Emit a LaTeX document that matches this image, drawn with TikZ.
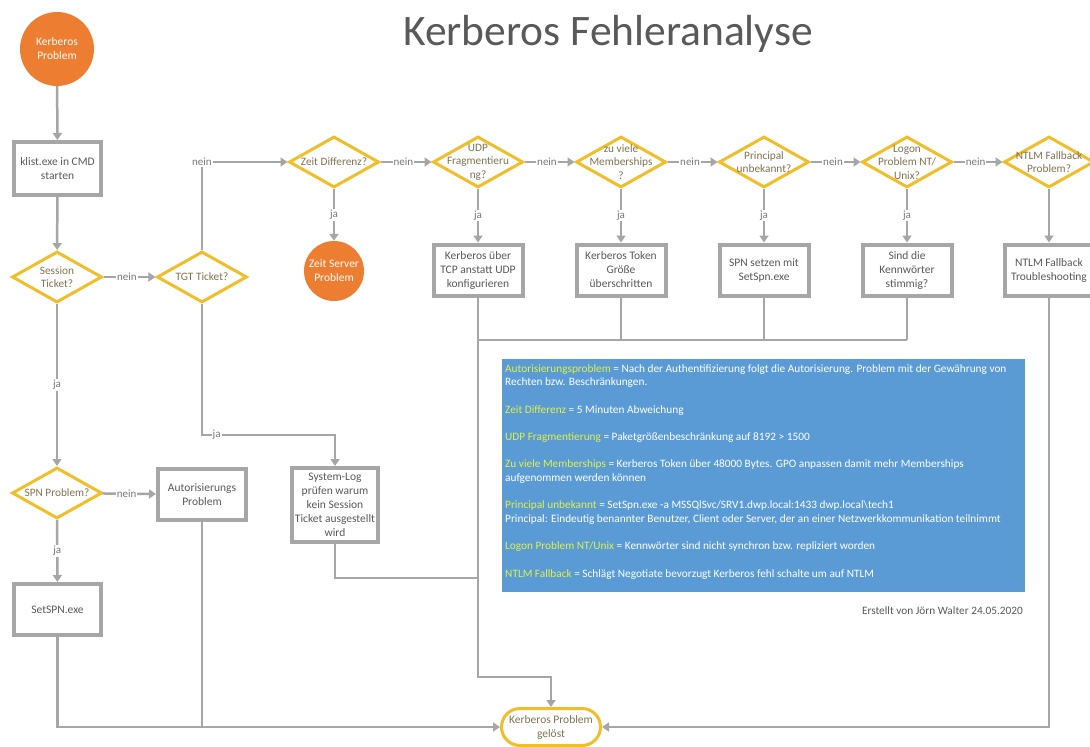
\documentclass[tikz,border=0pt]{standalone}
\usepackage{fontspec}
\setmainfont{Carlito}
\usetikzlibrary{shapes.geometric,shapes.misc,arrows.meta,calc}
\definecolor{lgray}{RGB}{166,166,166}
\definecolor{tgray}{RGB}{89,89,89}
\definecolor{lbgray}{RGB}{120,120,120}
\definecolor{ygold}{RGB}{240,190,40}
\definecolor{orng}{RGB}{237,125,49}
\definecolor{dtxt}{RGB}{130,115,80}
\definecolor{blu}{RGB}{91,155,213}
\definecolor{kw}{RGB}{225,240,70}
\begin{document}
\begin{tikzpicture}[x=1pt,y=-1pt,
  conn/.style={draw=lgray,line width=2.5pt},
  arr/.style={conn,-{Triangle[length=7pt,width=9pt]}},
  dia/.style={diamond,draw=ygold,line width=3pt,fill=white,minimum width=90pt,minimum height=51pt,inner sep=0pt},
  dtext/.style={align=center,font=\fontsize{11.3}{13.5}\selectfont,text=dtxt,inner sep=0pt},
  box/.style={rectangle,draw=lgray,line width=4pt,fill=white,minimum width=89pt,minimum height=51pt,align=center,font=\fontsize{11.5}{14}\selectfont,text=tgray,inner sep=1pt},
  circ/.style={circle,fill=orng,text=white,align=center,font=\fontsize{11.5}{14}\selectfont,inner sep=0pt},
  lbl/.style={fill=white,inner sep=1pt,font=\fontsize{11}{13}\selectfont,text=lbgray},
]
\useasboundingbox (0,0) rectangle (1090,747);
\clip (0,0) rectangle (1090,747);
\fill[white] (0,0) rectangle (1090,747);

% title
\node[anchor=base,font=\fontsize{43.5}{50}\selectfont,text=tgray,inner sep=0pt] (title) at (608,45) {Kerberos Fehleranalyse};

% left column
\node[circ,minimum size=74pt] (kp) at (57,49) {Kerberos\\Problem};
\node[box,minimum width=87pt,minimum height=53pt] (klist) at (57.5,168.5) {klist.exe in CMD\\starten};
\node[dia] (st) at (57,277) {};
\node[dtext] (stT) at (st) {Session\\Ticket?};
\node[dia] (tgt) at (202,277) {};
\node[dtext] (tgtT) at (tgt) {TGT Ticket?};
\node[dia] (spn) at (57,493) {};
\node[dtext] (spnT) at (spn) {SPN Problem?};
\node[box,minimum width=88pt,minimum height=51pt] (auth) at (202,494.5) {Autorisierungs\\Problem};
\node[box,minimum width=87pt,minimum height=51pt] (setspn) at (57.5,609.5) {SetSPN.exe};
\node[box,minimum width=86pt,minimum height=74pt,font=\fontsize{11.5}{14}\selectfont] (syslog) at (335,505) {System-Log\\prüfen warum\\kein Session\\Ticket ausgestellt\\wird};

% top row
\node[dia] (zd) at (334,162) {};
\node[dtext] (zdT) at (zd) {Zeit Differenz?};
\node[circ,minimum size=60pt] (zs) at (334,271) {Zeit Server\\Problem};
\node[dia] (udp) at (478,162) {};
\node[dtext] (udpT) at (udp) {UDP\\Fragmentieru\\ng?};
\node[dia] (mem) at (621,162) {};
\node[dtext] (memT) at (mem) {zu viele\\Memberships\\?};
\node[dia] (pr) at (764,162) {};
\node[dtext] (prT) at (pr) {Principal\\unbekannt?};
\node[dia] (lg) at (907,162) {};
\node[dtext] (lgT) at (lg) {Logon\\Problem NT/\\Unix?};
\node[dia] (nt) at (1049,162) {};
\node[dtext] (ntT) at (nt) {NTLM Fallback\\Problem?};

\node[box] (udpB) at (478,270) {Kerberos über\\TCP anstatt UDP\\konfigurieren};
\node[box] (memB) at (621,270) {Kerberos Token\\Größe\\überschritten};
\node[box] (prB) at (764,270) {SPN setzen mit\\SetSpn.exe};
\node[box] (lgB) at (907,270) {Sind die\\Kennwörter\\stimmig?};
\node[box] (ntB) at (1049,270) {NTLM Fallback\\Troubleshooting};

% end terminal
\node[rounded rectangle,draw=ygold,line width=3pt,fill=white,minimum width=101pt,minimum height=37pt,align=center,text=dtxt,font=\fontsize{11.5}{14}\selectfont,inner sep=1pt] (gel) at (551,727) {Kerberos Problem\\gelöst};

% legend
\node[fill=blu,anchor=north west,minimum width=523pt,minimum height=233pt,inner sep=0pt] (legend) at (502,359) {};
\node[anchor=north west,align=left,text=white,inner sep=0pt,font=\fontsize{11.3}{13.8}\selectfont] (legendT) at (505,364) {%
\textcolor{kw}{Autorisierungsproblem} = Nach der Authentifizierung folgt die Autorisierung. Problem mit der Gewährung von\\
Rechten bzw. Beschränkungen.\\[13.5pt]
\textcolor{kw}{Zeit Differenz} = 5 Minuten Abweichung\\[13.5pt]
\textcolor{kw}{UDP Fragmentierung} = Paketgrößenbeschränkung auf 8192 > 1500\\[13.5pt]
\textcolor{kw}{Zu viele Memberships} = Kerberos Token über 48000 Bytes. GPO anpassen damit mehr Memberships\\
aufgenommen werden können\\[13.5pt]
\textcolor{kw}{Principal unbekannt} = SetSpn.exe -a MSSQlSvc/SRV1.dwp.local:1433 dwp.local\textbackslash tech1\\
Principal: Eindeutig benannter Benutzer, Client oder Server, der an einer Netzwerkkommunikation teilnimmt\\[13.5pt]
\textcolor{kw}{Logon Problem NT/Unix} = Kennwörter sind nicht synchron bzw. repliziert worden\\[13.5pt]
\textcolor{kw}{NTLM Fallback} = Schlägt Negotiate bevorzugt Kerberos fehl schalte um auf NTLM};
\node[anchor=base east,text=tgray,inner sep=0pt,font=\fontsize{11.3}{13}\selectfont] (author) at (1023,614) {Erstellt von Jörn Walter 24.05.2020};

% coordinates
\coordinate (tgtup) at (202,162);
\coordinate (tgtdown) at (202,435);
\coordinate (syscorner) at (335,435);
\coordinate (sysout) at (335,578);
\coordinate (sysjoin) at (478,578);
\coordinate (hl) at (478,340);
\coordinate (hr) at (907,340);
\coordinate (vdown) at (478,677);
\coordinate (vright) at (551,677);

% connectors
\draw[arr] (kp) -- (klist);
\draw[arr] (klist) -- (st);
\draw[arr] (st) -- node[lbl,pos=0.45] (n1) {nein} (tgt);
\draw[arr] (tgt.north) -- (tgtup) node[lbl] (n2) {nein} -- (zd.west);
\draw[arr] (zd) -- node[lbl] (j1) {ja} (zs);
\draw[arr] (zd) -- node[lbl,pos=0.45] (n3) {nein} (udp);
\draw[arr] (udp) -- node[lbl,pos=0.45] (n4) {nein} (mem);
\draw[arr] (mem) -- node[lbl,pos=0.45] (n5) {nein} (pr);
\draw[arr] (pr) -- node[lbl,pos=0.45] (n6) {nein} (lg);
\draw[arr] (lg) -- node[lbl,pos=0.45] (n7) {nein} (nt);
\draw[arr] (udp) -- node[lbl] (j2) {ja} (udpB);
\draw[arr] (mem) -- node[lbl] (j3) {ja} (memB);
\draw[arr] (pr) -- node[lbl] (j4) {ja} (prB);
\draw[arr] (lg) -- node[lbl] (j5) {ja} (lgB);
\draw[arr] (nt) -- (ntB);
\draw[arr] (st) -- node[lbl] (j6) {ja} (spn);
\draw[arr] (spn) -- node[lbl,pos=0.45] (n8) {nein} (auth);
\draw[arr] (spn) -- node[lbl,pos=0.5] (j7) {ja} (setspn);
\draw[arr] (tgt.south) -- (tgtdown) -- node[lbl,pos=0.11] (j8) {ja} (syscorner) -- (syslog.north);
\draw[conn] (syslog.south) -- (sysout) -- (sysjoin);
\draw[conn] (memB.south) -- (memB.south |- hl);
\draw[conn] (prB.south) -- (prB.south |- hl);
\draw[conn] (lgB.south) -- (hr);
\draw[conn] (hl) -- (hr);
\draw[arr] (udpB.south) -- (vdown) -- (vright) -- (gel.north);
\draw[arr] (ntB.south) -- (ntB.south |- gel.east) -- (gel.east);
\draw[arr] (setspn.south) -- (setspn.south |- gel.west) -- (gel.west);
\draw[conn] (auth.south) -- (auth.south |- gel.west);
\end{tikzpicture}
\end{document}
